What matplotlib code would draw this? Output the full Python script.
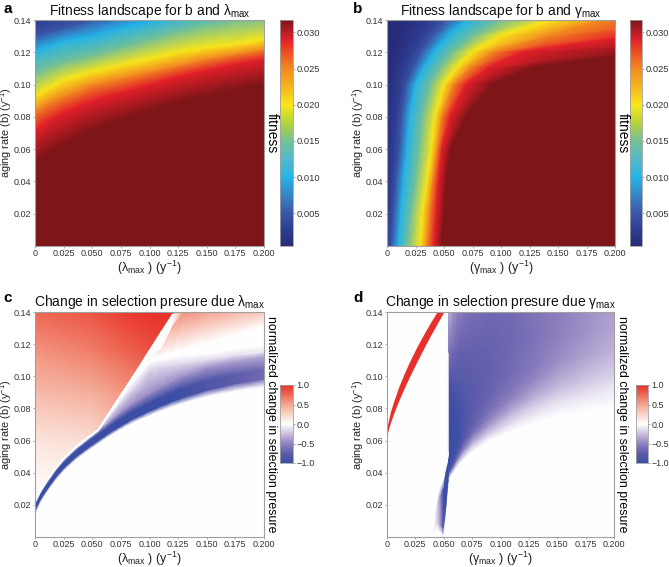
import numpy as np
import matplotlib
matplotlib.use('Agg')
import matplotlib.pyplot as plt
from matplotlib.colors import LinearSegmentedColormap, Normalize
from matplotlib.cm import ScalarMappable

plt.rcParams['font.family'] = ['Liberation Sans', 'DejaVu Sans']
plt.rcParams['mathtext.fontset'] = 'custom'
plt.rcParams['mathtext.rm'] = 'Liberation Sans'
plt.rcParams['mathtext.it'] = 'Liberation Sans:italic'
plt.rcParams['mathtext.bf'] = 'Liberation Sans:bold'

# ---------------- data ----------------
x_ticks = [0, 0.025, 0.05, 0.075, 0.1, 0.125, 0.15, 0.175, 0.2]
x_tick_labels = ['0', '0.025', '0.050', '0.075', '0.100', '0.125', '0.150', '0.175', '0.200']
y_ticks = [0.02, 0.04, 0.06, 0.08, 0.10, 0.12, 0.14]
y_tick_labels = ['0.02', '0.04', '0.06', '0.08', '0.10', '0.12', '0.14']
fit_ticks = [0.005, 0.010, 0.015, 0.020, 0.025, 0.030]
fit_range = (0.0005, 0.0317)
sel_ticks = [-1.0, -0.5, 0.0, 0.5, 1.0]
sel_tick_labels = ['\u22121.0', '\u22120.5', '0.0', '0.5', '1.0']

# panel a: aging rate b at which each fitness level is reached, per lambda_max column
a_lam = [0, 0.0125, 0.025, 0.05, 0.075, 0.1, 0.125, 0.15, 0.175, 0.2]
a_levels = [0.0317, 0.029, 0.025, 0.020, 0.015, 0.010, 0.005, 0.0025, 0.0005]
a_b_0317 = [0.051, 0.058, 0.063, 0.072, 0.078, 0.084, 0.089, 0.093, 0.097, 0.100]
a_b_029 = [0.072, 0.078, 0.083, 0.090, 0.095, 0.100, 0.105, 0.109, 0.113, 0.116]
a_b_025 = [0.084, 0.089, 0.093, 0.100, 0.104, 0.108, 0.112, 0.116, 0.119, 0.122]
a_b_020 = [0.093, 0.098, 0.103, 0.108, 0.112, 0.116, 0.120, 0.123, 0.125, 0.128]
a_b_015 = [0.107, 0.111, 0.114, 0.118, 0.123, 0.128, 0.133, 0.137, 0.140, 0.142]
a_b_010 = [0.121, 0.124, 0.127, 0.130, 0.135, 0.139, 0.143, 0.147, 0.150, 0.153]
a_b_005 = [0.130, 0.1325, 0.135, 0.140, 0.145, 0.149, 0.153, 0.157, 0.160, 0.163]
a_b_0025 = [0.139, 0.1415, 0.144, 0.150, 0.155, 0.159, 0.163, 0.167, 0.170, 0.173]
a_b_0005 = [0.165, 0.167, 0.170, 0.175, 0.180, 0.184, 0.188, 0.192, 0.195, 0.198]

# panel b: gamma_max at which each fitness level is reached, per aging-rate row
b_rows = [0, 0.02, 0.04, 0.06, 0.08, 0.10, 0.11, 0.12, 0.13, 0.14]
b_levels = [0.0005, 0.003, 0.005, 0.010, 0.015, 0.020, 0.025, 0.029, 0.0317]
b_g_000 = [-0.010, 0.000, 0.004, 0.010, 0.018, 0.029, 0.035, 0.041, 0.048]
b_g_002 = [-0.008, 0.002, 0.006, 0.012, 0.021, 0.031, 0.037, 0.043, 0.050]
b_g_004 = [-0.006, 0.004, 0.008, 0.0145, 0.025, 0.035, 0.040, 0.045, 0.052]
b_g_006 = [-0.004, 0.006, 0.011, 0.0175, 0.028, 0.039, 0.044, 0.048, 0.056]
b_g_008 = [-0.002, 0.008, 0.013, 0.020, 0.031, 0.042, 0.048, 0.055, 0.069]
b_g_010 = [0.000, 0.012, 0.017, 0.025, 0.038, 0.050, 0.058, 0.069, 0.092]
b_g_011 = [0.002, 0.016, 0.023, 0.032, 0.046, 0.060, 0.072, 0.088, 0.125]
b_g_012 = [0.005, 0.022, 0.030, 0.041, 0.057, 0.0745, 0.092, 0.118, 0.220]
b_g_013 = [0.010, 0.030, 0.040, 0.053, 0.075, 0.098, 0.140, 0.210, 0.350]
b_g_014 = [0.015, 0.040, 0.052, 0.070, 0.100, 0.142, 0.190, 0.300, 0.450]

# panel c, background: positive field left of the diagonal edge (coarse grid)
c_red_lam = [0, 0.05, 0.075, 0.1, 0.13]
c_red_b = [0, 0.03, 0.06, 0.09, 0.115, 0.14]
c_red_v = [  # one row per c_red_b, one value per c_red_lam
    [0, 0, 0, 0, 0],
    [0.02, 0.03, 0.05, 0.10, 0.20],
    [0.15, 0.20, 0.30, 0.40, 0.50],
    [0.38, 0.45, 0.55, 0.65, 0.75],
    [0.57, 0.66, 0.75, 0.85, 0.95],
    [0.75, 0.85, 0.93, 1.00, 1.00],
]
# panel c, foreground: one profile per lambda_max column (b of each row, value of each row);
# its top row follows the sharp diagonal edge
c_lam = [0, 0.005, 0.01, 0.018, 0.025, 0.035, 0.045, 0.055, 0.065, 0.075, 0.085, 0.1,
         0.11, 0.12, 0.13, 0.15, 0.175, 0.2]
c_col_b = [
    [0, 0.014, 0.017, 0.020, 0.0215, 0.0220, 0.0221, 0.0222, 0.0223, 0.0224, 0.0225],
    [0, 0.022, 0.024, 0.027, 0.0285, 0.0290, 0.0291, 0.0292, 0.0293, 0.0294, 0.0295],
    [0, 0.0276, 0.0294, 0.0326, 0.0341, 0.0346, 0.0347, 0.0348, 0.0349, 0.0350, 0.0351],
    [0, 0.0355, 0.0373, 0.0407, 0.0422, 0.0427, 0.0428, 0.0429, 0.0430, 0.0431, 0.0432],
    [0, 0.0412, 0.0430, 0.0466, 0.0481, 0.0486, 0.0487, 0.0488, 0.0489, 0.0490, 0.0491],
    [0, 0.0478, 0.0496, 0.0534, 0.0549, 0.0554, 0.0555, 0.0556, 0.0557, 0.0558, 0.0559],
    [0, 0.0532, 0.0550, 0.0590, 0.0605, 0.0610, 0.0611, 0.0612, 0.0613, 0.0614, 0.0615],
    [0, 0.0580, 0.0600, 0.0640, 0.0660, 0.0662, 0.0663, 0.0664, 0.0665, 0.0666, 0.0667],
    [0, 0.0629, 0.0649, 0.0691, 0.0721, 0.0755, 0.0765, 0.0768, 0.0771, 0.0774, 0.0777],
    [0, 0.0671, 0.0693, 0.0737, 0.0777, 0.0840, 0.0870, 0.0874, 0.0878, 0.0882, 0.0886],
    [0, 0.0710, 0.0734, 0.0780, 0.0830, 0.0920, 0.0970, 0.0976, 0.0982, 0.0988, 0.0994],
    [0, 0.0757, 0.0785, 0.0835, 0.0895, 0.1040, 0.1090, 0.1105, 0.1120, 0.1135, 0.1163],
    [0, 0.0786, 0.0816, 0.0868, 0.0933, 0.1060, 0.1110, 0.1130, 0.1160, 0.1180, 0.1275],
    [0, 0.0813, 0.0845, 0.0899, 0.0969, 0.1070, 0.1120, 0.1150, 0.1310, 0.1325, 0.1385],
    [0, 0.0835, 0.0870, 0.0926, 0.1001, 0.1080, 0.1130, 0.1170, 0.1400, 0.1405, 0.1410],
    [0, 0.0875, 0.0915, 0.0975, 0.1055, 0.1100, 0.1140, 0.1210, 0.1400, 0.1405, 0.1410],
    [0, 0.0910, 0.0955, 0.1015, 0.1095, 0.1130, 0.1170, 0.1260, 0.1400, 0.1405, 0.1410],
    [0, 0.0935, 0.0985, 0.1045, 0.1125, 0.1150, 0.1190, 0.1310, 0.1400, 0.1405, 0.1410],
]
c_col_v = [
    [0, 0, -1, -1, -0.15, 0, 0, 0, 0, 0, 0],
    [0, 0, -1, -1, -0.15, 0, 0, 0, 0, 0, 0],
    [0, 0, -1, -1, -0.15, 0, 0, 0, 0, 0, 0],
    [0, 0, -1, -1, -0.15, 0, 0, 0, 0, 0, 0],
    [0, 0, -1, -1, -0.15, 0, 0, 0, 0, 0, 0],
    [0, 0, -1, -1, -0.15, 0, 0, 0, 0, 0, 0],
    [0, 0, -1, -1, -0.20, 0, 0, 0, 0, 0, 0],
    [0, 0, -1, -1, -0.35, -0.10, 0, 0, 0, 0, 0],
    [0, 0, -1, -1, -0.40, -0.12, 0, 0, 0, 0, 0],
    [0, 0, -1, -1, -0.45, -0.15, 0, 0, 0, 0, 0],
    [0, 0, -1, -1, -0.45, -0.15, 0, 0, 0, 0, 0],
    [0, 0, -1, -1, -0.45, -0.15, 0, 0, 0, 0, 0],
    [0, 0, -1, -1, -0.45, -0.15, 0, 0, 0.15, 0, 0],
    [0, 0, -1, -1, -0.45, -0.15, 0, 0, 0.45, 0, 0],
    [0, 0, -0.95, -0.95, -0.45, -0.15, 0, 0, 0.60, 0.60, 0.60],
    [0, 0, -0.85, -0.85, -0.42, -0.15, 0, 0, 0.50, 0.50, 0.50],
    [0, 0, -0.75, -0.75, -0.38, -0.13, 0, 0, 0.40, 0.40, 0.40],
    [0, 0, -0.65, -0.65, -0.33, -0.10, 0, 0, 0.30, 0.30, 0.30],
]

# panel d: one profile per gamma_max column of the negative region
d_gam = [0, 0.04, 0.044, 0.047, 0.0495, 0.0515, 0.0535, 0.0538, 0.0542, 0.058, 0.062, 0.067,
         0.075, 0.09, 0.11, 0.13, 0.15, 0.175, 0.2]
d_col_b = [
    [0, 0.001, 0.002, 0.003, 0.004, 0.005, 0.006, 0.007, 0.008, 0.14],
    [0, 0.001, 0.002, 0.003, 0.004, 0.005, 0.006, 0.007, 0.008, 0.14],
    [0, 0.005, 0.009, 0.020, 0.026, 0.027, 0.028, 0.029, 0.030, 0.14],
    [0, 0.003, 0.007, 0.026, 0.032, 0.033, 0.034, 0.035, 0.036, 0.14],
    [0, 0.002, 0.006, 0.030, 0.036, 0.037, 0.038, 0.039, 0.040, 0.14],
    [0, 0.012, 0.018, 0.040, 0.043, 0.044, 0.045, 0.046, 0.047, 0.14],
    [0, 0.030, 0.034, 0.046, 0.048, 0.049, 0.050, 0.051, 0.052, 0.14],
    [0, 0.034, 0.038, 0.047, 0.049, 0.050, 0.051, 0.052, 0.053, 0.14],
    [0, 0.036, 0.040, 0.044, 0.047, 0.050, 0.070, 0.095, 0.115, 0.14],
    [0, 0.040, 0.044, 0.048, 0.052, 0.060, 0.080, 0.095, 0.115, 0.14],
    [0, 0.044, 0.049, 0.053, 0.056, 0.062, 0.078, 0.095, 0.115, 0.14],
    [0, 0.048, 0.054, 0.058, 0.061, 0.066, 0.078, 0.095, 0.115, 0.14],
    [0, 0.053, 0.059, 0.063, 0.066, 0.071, 0.080, 0.095, 0.115, 0.14],
    [0, 0.060, 0.065, 0.070, 0.074, 0.079, 0.087, 0.098, 0.118, 0.14],
    [0, 0.066, 0.071, 0.077, 0.081, 0.086, 0.093, 0.102, 0.120, 0.14],
    [0, 0.071, 0.076, 0.082, 0.086, 0.091, 0.098, 0.106, 0.122, 0.14],
    [0, 0.075, 0.080, 0.086, 0.090, 0.095, 0.102, 0.110, 0.125, 0.14],
    [0, 0.078, 0.083, 0.089, 0.093, 0.098, 0.105, 0.113, 0.127, 0.14],
    [0, 0.080, 0.086, 0.092, 0.096, 0.100, 0.107, 0.115, 0.128, 0.14],
]
d_col_v = [
    [0, 0, 0, 0, 0, 0, 0, 0, 0, 0],
    [0, 0, 0, 0, 0, 0, 0, 0, 0, 0],
    [0, 0, -0.15, -0.15, 0, 0, 0, 0, 0, 0],
    [0, 0, -0.40, -0.45, 0, 0, 0, 0, 0, 0],
    [0, -0.10, -0.75, -1.0, 0, 0, 0, 0, 0, 0],
    [0, 0, -1.0, -1.0, 0, 0, 0, 0, 0, 0],
    [0, 0, -1.0, -1.0, 0, 0, 0, 0, 0, 0],
    [0, 0, -1.0, -1.0, 0, 0, 0, 0, 0, 0],
    [0, 0, -0.90, -1.0, -1.0, -1.0, -1.0, -0.92, -0.60, -0.32],
    [0, 0, -0.70, -0.95, -1.0, -1.0, -1.0, -0.88, -0.66, -0.42],
    [0, 0, -0.60, -0.85, -0.95, -1.0, -0.95, -0.84, -0.70, -0.52],
    [0, 0, -0.50, -0.72, -0.82, -0.88, -0.86, -0.80, -0.72, -0.58],
    [0, 0, -0.35, -0.55, -0.66, -0.74, -0.78, -0.77, -0.72, -0.63],
    [0, 0, -0.22, -0.40, -0.52, -0.61, -0.69, -0.72, -0.71, -0.67],
    [0, 0, -0.13, -0.28, -0.39, -0.49, -0.58, -0.64, -0.67, -0.65],
    [0, 0, -0.09, -0.20, -0.29, -0.38, -0.48, -0.55, -0.60, -0.59],
    [0, 0, -0.07, -0.15, -0.22, -0.30, -0.39, -0.46, -0.52, -0.53],
    [0, 0, -0.05, -0.11, -0.17, -0.23, -0.30, -0.37, -0.43, -0.45],
    [0, 0, -0.04, -0.08, -0.12, -0.17, -0.23, -0.29, -0.35, -0.38],
]
# panel d: thin positive band (value 1.0)
d_red_gam = [0, 0.001, 0.003, 0.006, 0.01, 0.015, 0.02, 0.026, 0.032, 0.038, 0.044, 0.05, 0.054]
d_red_lo = [0.063, 0.0664, 0.0711, 0.0771, 0.0843, 0.0924, 0.100, 0.1086, 0.1169, 0.1249, 0.1325, 0.140, 0.1449]
d_red_hi = [0.0685, 0.0715, 0.078, 0.0846, 0.0928, 0.1015, 0.1093, 0.1179, 0.1257, 0.1331, 0.140, 0.1467, 0.151]
d_red_value = 1.0

# ---------------- colour maps ----------------
fit_anchor_vals = [0.0005, 0.003, 0.005, 0.0075, 0.010, 0.0125, 0.015, 0.0175, 0.020,
                   0.0225, 0.025, 0.0275, 0.029, 0.0305, 0.0317]
fit_anchor_cols = ['#272c78', '#2f3f95', '#3b58a8', '#3584c4', '#26b5e8', '#52b9c9', '#74c096',
                   '#b6d33a', '#f8e71a', '#f7b51f', '#f28a20', '#ec4a25', '#e3202a', '#a81c22', '#7e1519']
fpos = [(v - fit_anchor_vals[0]) / (fit_anchor_vals[-1] - fit_anchor_vals[0]) for v in fit_anchor_vals]
fit_cmap = LinearSegmentedColormap.from_list('fit', list(zip(fpos, fit_anchor_cols)))
fit_norm = Normalize(*fit_range)

sel_cmap = LinearSegmentedColormap.from_list('sel', [
    (0.0, '#3b4ea3'), (0.125, '#5f5cab'), (0.25, '#9182c0'), (0.375, '#cbc0e0'),
    (0.5, '#ffffff'), (0.625, '#f9d4c8'), (0.75, '#f4a591'), (0.875, '#ee6b55'), (1.0, '#e8302b')])
sel_norm = Normalize(-1, 1)

# ---------------- figure ----------------
W, H = 669, 567
fig = plt.figure(figsize=(W / 100, H / 100), dpi=100)


def rect(l, t, r, b):
    return [l / W, 1 - b / H, (r - l) / W, (b - t) / H]


GRID = '#a0a0a0'


def style_axes(ax, xlabel, title, title_pad):
    ax.set_xlim(0, 0.2)
    ax.set_ylim(0, 0.14)
    ax.set_xticks(x_ticks)
    ax.set_xticklabels(x_tick_labels)
    ax.set_yticks(y_ticks)
    ax.set_yticklabels(y_tick_labels)
    ax.tick_params(labelsize=6.5, length=1.5, width=0.6, color=GRID, labelcolor='#333333', pad=1)
    for s in ax.spines.values():
        s.set_color(GRID)
        s.set_linewidth(0.8)
    ax.set_xlabel(xlabel, fontsize=9, color='#222222', labelpad=0.5)
    ax.set_ylabel('aging rate (b) (y$^{-1}$)', fontsize=7.8, color='#222222')
    w_px = ax.get_position().width * W
    ax.yaxis.set_label_coords(-20.5 / w_px, 0.5)
    ax.set_title(title, fontsize=10, color='#111111', pad=title_pad)


def add_cbar(r, cmap, norm, ticks, labels, size=6.7):
    cax = fig.add_axes(r)
    cb = fig.colorbar(ScalarMappable(norm=norm, cmap=cmap), cax=cax, ticks=ticks)
    cb.ax.set_yticklabels(labels)
    cb.outline.set_edgecolor(GRID)
    cb.outline.set_linewidth(0.6)
    cb.ax.tick_params(labelsize=size, length=1.5, width=0.5, color='#888888', labelcolor='#333333', pad=0.8)
    return cb


def letter(x, y, s):
    fig.text(x / W, 1 - y / H, s, fontsize=11, fontweight='bold', ha='left', va='center')


lam_lbl = '(\u03bb$_{\\mathrm{max}}$ ) (y$^{-1}$)'
gam_lbl = '(\u03b3$_{\\mathrm{max}}$ ) (y$^{-1}$)'

# ---- panel a ----
axa = fig.add_axes(rect(35, 20, 264, 246))
na = len(a_lam)
a_rows_b = [[0] * na, a_b_0317, a_b_029, a_b_025, a_b_020, a_b_015, a_b_010, a_b_005, a_b_0025,
            a_b_0005, [0.3] * na]
a_rows_v = [a_levels[0]] + a_levels + [a_levels[-1]]
Ya = np.array(a_rows_b, dtype=float)
Xa = np.tile(np.array(a_lam, dtype=float), (Ya.shape[0], 1))
Ca = np.array([[v] * na for v in a_rows_v])
axa.pcolormesh(Xa, Ya, Ca, shading='gouraud', cmap=fit_cmap, norm=fit_norm)
style_axes(axa, lam_lbl, 'Fitness landscape for b and \u03bb$_{\\mathrm{max}}$', 3)
add_cbar(rect(280, 20, 293, 246), fit_cmap, fit_norm, fit_ticks, ['%.3f' % t for t in fit_ticks])
fig.text(272 / W, 1 - 133 / H, 'fitness', rotation=270, ha='center', va='center', fontsize=10)
letter(3, 9, 'a')

# ---- panel b ----
axb = fig.add_axes(rect(387, 20, 615, 246))
b_cols_g = [b_g_000, b_g_002, b_g_004, b_g_006, b_g_008, b_g_010, b_g_011, b_g_012, b_g_013, b_g_014]
Xb = np.array([[-0.1] + row + [0.6] for row in b_cols_g], dtype=float)
Yb = np.tile(np.array(b_rows, dtype=float)[:, None], (1, Xb.shape[1]))
Cb = np.tile(np.array([b_levels[0]] + b_levels + [b_levels[-1]], dtype=float), (Xb.shape[0], 1))
axb.pcolormesh(Xb, Yb, Cb, shading='gouraud', cmap=fit_cmap, norm=fit_norm)
style_axes(axb, gam_lbl, 'Fitness landscape for b and \u03b3$_{\\mathrm{max}}$', 3)
add_cbar(rect(630, 20, 642, 246), fit_cmap, fit_norm, fit_ticks, ['%.3f' % t for t in fit_ticks])
fig.text(623 / W, 1 - 133 / H, 'fitness', rotation=270, ha='center', va='center', fontsize=10)
letter(353, 9, 'b')

# ---- panel c ----
axc = fig.add_axes(rect(35, 312, 264, 537))
Xr, Yr = np.meshgrid(np.array(c_red_lam, dtype=float), np.array(c_red_b, dtype=float))
axc.pcolormesh(Xr, Yr, np.array(c_red_v, dtype=float), shading='gouraud', cmap=sel_cmap, norm=sel_norm)
Yc = np.array(c_col_b, dtype=float).T
Xc = np.tile(np.array(c_lam, dtype=float), (Yc.shape[0], 1))
Cc = np.array(c_col_v, dtype=float).T
axc.pcolormesh(Xc, Yc, Cc, shading='gouraud', cmap=sel_cmap, norm=sel_norm)
style_axes(axc, lam_lbl, 'Change in selection presure due \u03bb$_{\\mathrm{max}}$', 4.5)
add_cbar(rect(280, 385, 293, 463), sel_cmap, sel_norm, sel_ticks, sel_tick_labels)
fig.text(271 / W, 1 - 424 / H, 'normalized change in selection presure', rotation=270,
         ha='center', va='center', fontsize=8.9)
letter(3, 298, 'c')

# ---- panel d ----
axd = fig.add_axes(rect(387, 312, 614, 537))
Yd = np.array(d_col_b, dtype=float).T
Xd = np.tile(np.array(d_gam, dtype=float), (Yd.shape[0], 1))
Cd = np.array(d_col_v, dtype=float).T
axd.pcolormesh(Xd, Yd, Cd, shading='gouraud', cmap=sel_cmap, norm=sel_norm)
axd.fill_between(d_red_gam, d_red_lo, d_red_hi, color=sel_cmap(sel_norm(d_red_value)), lw=0)
style_axes(axd, gam_lbl, 'Change in selection presure due \u03b3$_{\\mathrm{max}}$', 4.5)
add_cbar(rect(636, 385, 648, 463), sel_cmap, sel_norm, sel_ticks, sel_tick_labels, size=6.4)
fig.text(622 / W, 1 - 424 / H, 'normalized change in selection presure', rotation=270,
         ha='center', va='center', fontsize=8.9)
letter(353, 298, 'd')

fig.savefig('out.png', dpi=100)
